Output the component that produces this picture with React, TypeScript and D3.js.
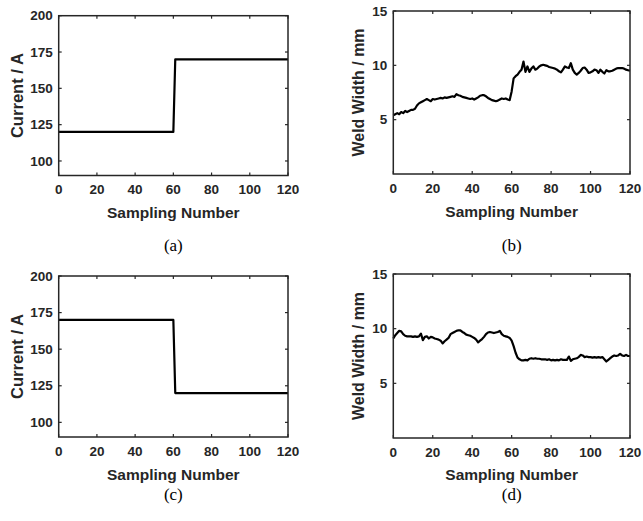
import React from "react";
import * as d3 from "d3";

const sampleTicks = [0, 20, 40, 60, 80, 100, 120];
const currentTicks = [100, 125, 150, 175, 200];
const widthTicks = [5, 10, 15];

// Current step signals (sampling number, current in A)
const currentA: [number, number][] = [[0, 120], [60, 120], [61, 170], [120, 170]];
const currentC: [number, number][] = [[0, 170], [60, 170], [61, 120], [120, 120]];

// Weld width (mm) per sampling number 0..120
const widthB = [
  5.4, 5.5, 5.6, 5.5, 5.7, 5.6, 5.8, 5.7, 5.8, 5.9,
  5.9, 6.0, 6.3, 6.5, 6.6, 6.7, 6.8, 6.9, 6.8, 6.7,
  6.9, 6.85, 6.9, 6.95, 7.0, 6.95, 7.05, 7.0, 7.05, 7.1,
  7.15, 7.1, 7.35, 7.25, 7.2, 7.1, 7.05, 7.0, 6.95, 6.9,
  6.95, 6.85, 6.95, 7.05, 7.2, 7.25, 7.25, 7.15, 7.0, 6.9,
  6.8, 6.75, 6.7, 6.75, 6.85, 6.95, 6.9, 6.95, 6.85, 6.8,
  7.6, 8.8, 9.0, 9.15, 9.4, 9.6, 10.35, 9.4, 9.9, 9.4,
  9.7, 9.9, 9.6, 9.7, 9.9, 10.0, 10.05, 10.0, 9.95, 9.85,
  9.8, 9.75, 9.7, 9.6, 9.45, 9.35, 9.6, 9.9, 9.8, 9.75,
  10.2, 9.6, 9.3, 9.15, 9.3, 9.5, 9.75, 9.8, 9.6, 9.3,
  9.35, 9.45, 9.6, 9.55, 9.3, 9.6, 9.4, 9.25, 9.55, 9.45,
  9.45, 9.5, 9.6, 9.7, 9.75, 9.75, 9.75, 9.7, 9.6, 9.55,
  9.5,
];

const widthD = [
  9.1, 9.4, 9.6, 9.8, 9.75, 9.5, 9.35, 9.3, 9.3, 9.3,
  9.25, 9.3, 9.25, 9.3, 9.55, 8.95, 9.25, 9.3, 9.1, 9.25,
  9.2, 9.1, 9.05, 9.0, 8.9, 8.65, 8.85, 9.0, 9.15, 9.5,
  9.6, 9.7, 9.8, 9.85, 9.85, 9.7, 9.6, 9.45, 9.4, 9.35,
  9.25, 9.15, 9.0, 8.75, 8.9, 9.05, 9.25, 9.5, 9.65, 9.7,
  9.65, 9.6, 9.65, 9.7, 9.8, 9.5, 9.35, 9.3, 9.25, 9.15,
  8.9, 8.4, 7.8, 7.35, 7.2, 7.1, 7.1, 7.15, 7.1, 7.25,
  7.3, 7.25, 7.3, 7.25, 7.25, 7.2, 7.2, 7.2, 7.15, 7.2,
  7.1, 7.15, 7.1, 7.15, 7.1, 7.2, 7.15, 7.15, 7.15, 7.45,
  7.05, 7.2, 7.25, 7.3, 7.4, 7.6, 7.55, 7.4, 7.45, 7.4,
  7.4, 7.35, 7.4, 7.35, 7.4, 7.35, 7.4, 7.2, 7.0, 7.15,
  7.3, 7.45, 7.55, 7.5, 7.55, 7.7, 7.55, 7.5, 7.6, 7.5,
  7.5,
];

const FONT = "'Liberation Sans', Arial, sans-serif";
const AXIS = "#262626";

type PanelProps = {
  left: number; right: number; top: number; bottom: number;
  yDomain: [number, number]; yTicks: number[];
  data: [number, number][];
  yLabel: string; yLabelX: number; yLabelLen: number;
  xLabelY: number; caption: string; captionY: number;
};

function Panel(p: PanelProps) {
  const x = d3.scaleLinear().domain([0, 120]).range([p.left, p.right]);
  const y = d3.scaleLinear().domain(p.yDomain).range([p.bottom, p.top]);
  const line = d3.line<[number, number]>().x(d => x(d[0])).y(d => y(d[1]));
  const tl = 3;
  const midY = (p.top + p.bottom) / 2;
  const midX = (p.left + p.right) / 2;
  return (
    <g>
      <path d={line(p.data) || ""} fill="none" stroke="#000" strokeWidth={2.2} strokeLinejoin="round" />
      <rect x={p.left} y={p.top} width={p.right - p.left} height={p.bottom - p.top}
        fill="none" stroke={AXIS} strokeWidth={1.5} />
      {sampleTicks.map(t => (
        <g key={"x" + t}>
          <line x1={x(t)} x2={x(t)} y1={p.bottom} y2={p.bottom - tl} stroke={AXIS} strokeWidth={1.2} />
          <line x1={x(t)} x2={x(t)} y1={p.top} y2={p.top + tl} stroke={AXIS} strokeWidth={1.2} />
          <text x={x(t)} y={p.bottom + 9} dy="0.71em" textAnchor="middle" fontFamily={FONT}
            fontWeight="bold" fontSize={13.5} fill={AXIS}>{t}</text>
        </g>
      ))}
      {p.yTicks.map(t => (
        <g key={"y" + t}>
          <line x1={p.left} x2={p.left + tl} y1={y(t)} y2={y(t)} stroke={AXIS} strokeWidth={1.2} />
          <line x1={p.right} x2={p.right - tl} y1={y(t)} y2={y(t)} stroke={AXIS} strokeWidth={1.2} />
          <text x={p.left - 6} y={y(t)} dy="0.35em" textAnchor="end" fontFamily={FONT}
            fontWeight="bold" fontSize={13.5} fill={AXIS}>{t}</text>
        </g>
      ))}
      <text x={midX} y={p.xLabelY} dy="0.35em" textAnchor="middle" fontFamily={FONT}
        fontWeight="bold" fontSize={15.5} fill={AXIS}>Sampling Number</text>
      <text transform={`translate(${p.yLabelX},${midY}) rotate(-90)`} dy="0.35em" textAnchor="middle"
        fontFamily={FONT} fontWeight="bold" fontSize={16} fill={AXIS}
        textLength={p.yLabelLen} lengthAdjust="spacingAndGlyphs">{p.yLabel}</text>
      <text x={midX} y={p.captionY} dy="0.35em" textAnchor="middle"
        fontFamily="'Liberation Serif', 'Times New Roman', serif" fontSize={17} fill="#000">{p.caption}</text>
    </g>
  );
}

export default function App() {
  const toPairs = (arr: number[]): [number, number][] => arr.map((v, i) => [i, v]);
  return (
    <svg width={643} height={521} style={{ position: "absolute", left: 0, top: 0, background: "#fff" }}>
      <Panel left={58.7} right={288} top={15.7} bottom={175.5} yDomain={[90, 200]} yTicks={currentTicks}
        data={currentA} yLabel="Current / A" yLabelX={17.5} yLabelLen={85}
        xLabelY={213} caption="(a)" captionY={245} />
      <Panel left={393.3} right={630} top={11} bottom={174} yDomain={[0, 15]} yTicks={widthTicks}
        data={toPairs(widthB)} yLabel="Weld Width / mm" yLabelX={358} yLabelLen={128}
        xLabelY={211.5} caption="(b)" captionY={245} />
      <Panel left={58.7} right={288} top={276} bottom={437} yDomain={[90, 200]} yTicks={currentTicks}
        data={currentC} yLabel="Current / A" yLabelX={17.5} yLabelLen={85}
        xLabelY={474.5} caption="(c)" captionY={494} />
      <Panel left={393.3} right={630} top={274} bottom={438} yDomain={[0, 15]} yTicks={widthTicks}
        data={toPairs(widthD)} yLabel="Weld Width / mm" yLabelX={358} yLabelLen={128}
        xLabelY={474.5} caption="(d)" captionY={494} />
    </svg>
  );
}
